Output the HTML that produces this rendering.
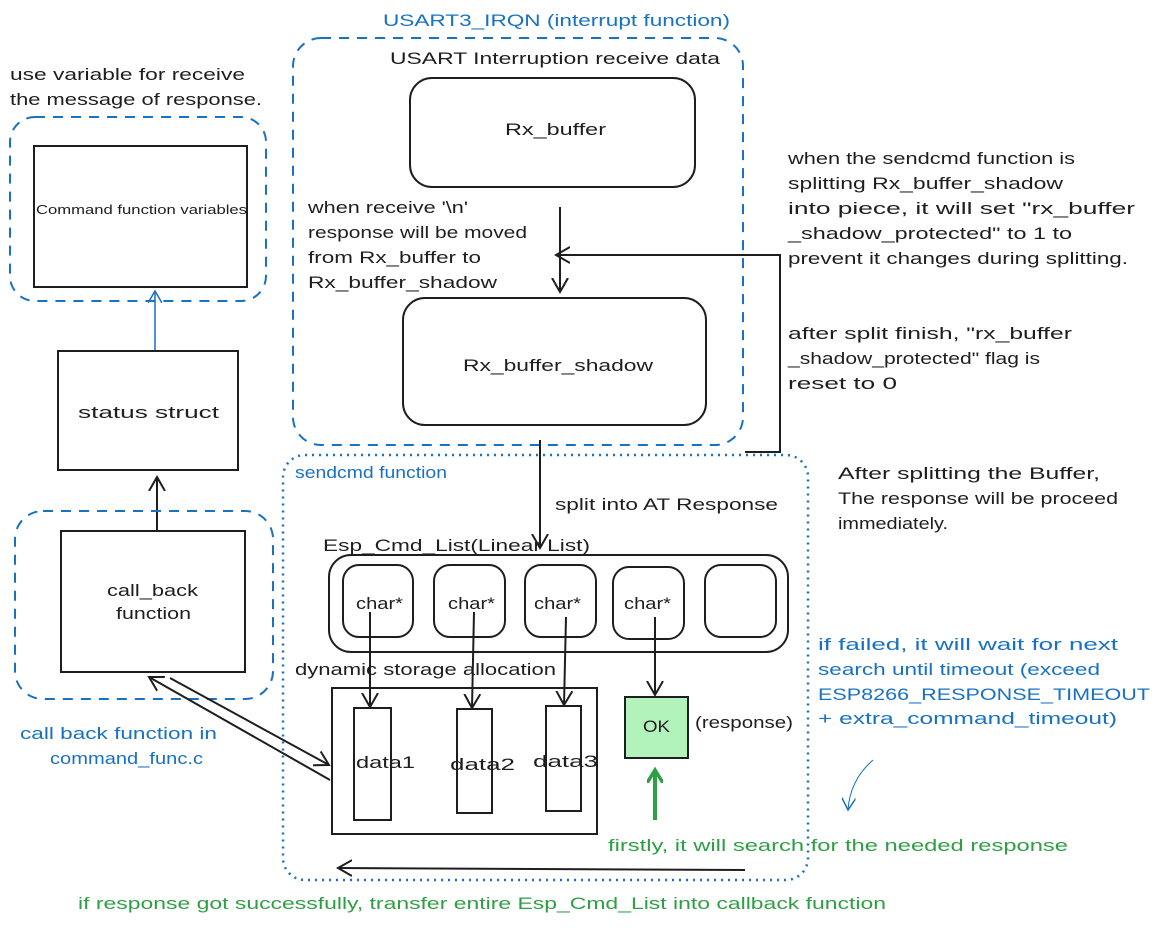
<!DOCTYPE html>
<html><head><style>
html,body{margin:0;padding:0;background:#fff}
svg text{font-family:"Liberation Sans",sans-serif;font-size:17px;fill:#1e1e1e}
.b{fill:#1971c2}.g{fill:#2f9e44}
</style></head><body>
<svg width="1170" height="927" viewBox="0 0 1170 927" xmlns="http://www.w3.org/2000/svg">
<defs>
<marker id="a" markerWidth="16" markerHeight="18" refX="14" refY="9" orient="auto" markerUnits="userSpaceOnUse"><path d="M0,1 L14,9 L0,17" fill="none" stroke="#1e1e1e" stroke-width="2"/></marker>
<marker id="ab" markerWidth="14" markerHeight="14" refX="12" refY="7" orient="auto" markerUnits="userSpaceOnUse"><path d="M0,0 L12,7 L0,14" fill="none" stroke="#1971c2" stroke-width="1.5"/></marker>
<marker id="ag" markerWidth="16" markerHeight="16" refX="13" refY="8" orient="auto" markerUnits="userSpaceOnUse"><path d="M0,0 L13,8 L0,16" fill="none" stroke="#2f9e44" stroke-width="3.5"/></marker>
</defs>
<g fill="none" stroke="#1e1e1e" stroke-width="2">
<rect x="293" y="38" width="450" height="407" rx="28" stroke="#1971c2" stroke-dasharray="10 8"/>
<rect x="410" y="78" width="285" height="109" rx="22"/>
<rect x="403" y="298" width="303" height="127" rx="22"/>
<line x1="560" y1="207" x2="560" y2="292" marker-end="url(#a)"/>
<polyline points="745,452 780,452 780,255 556,255" marker-end="url(#a)"/>
<line x1="540" y1="440" x2="540" y2="548" marker-end="url(#a)"/>
<rect x="283" y="455" width="525" height="425" rx="22" stroke="#1971c2" stroke-dasharray="2 5" stroke-width="2.5"/>
<rect x="329" y="555" width="459" height="97" rx="22"/>
<rect x="343" y="565" width="70" height="72" rx="16"/>
<rect x="434" y="565" width="71" height="72" rx="16"/>
<rect x="525" y="565" width="71" height="72" rx="16"/>
<rect x="613" y="567" width="71" height="72" rx="16"/>
<rect x="705" y="565" width="71" height="72" rx="16"/>
<rect x="332" y="688" width="265" height="146"/>
<rect x="354" y="708" width="37" height="112"/>
<rect x="457" y="709" width="35" height="104"/>
<rect x="546" y="706" width="35" height="105"/>
<line x1="370" y1="612" x2="370" y2="707" marker-end="url(#a)"/>
<line x1="474" y1="612" x2="472" y2="708" marker-end="url(#a)"/>
<line x1="566" y1="617" x2="564" y2="705" marker-end="url(#a)"/>
<line x1="655" y1="617" x2="655" y2="695" marker-end="url(#a)"/>
<rect x="625" y="697" width="63" height="61" fill="#b2f2bb"/>
<line x1="745" y1="870" x2="338" y2="868" marker-end="url(#a)"/>
<rect x="10" y="117" width="256" height="184" rx="25" stroke="#1971c2" stroke-dasharray="10 8"/>
<rect x="34" y="146" width="213" height="141"/>
<line x1="155" y1="350" x2="155" y2="291" stroke="#1971c2" stroke-width="1.5" marker-end="url(#ab)"/>
<rect x="58" y="351" width="180" height="119"/>
<line x1="157" y1="530" x2="157" y2="477" marker-end="url(#a)"/>
<rect x="15" y="511" width="258" height="188" rx="28" stroke="#1971c2" stroke-dasharray="10 8"/>
<rect x="61" y="531" width="184" height="141"/>
<line x1="170" y1="678" x2="329" y2="765" marker-end="url(#a)"/>
<line x1="330" y1="780" x2="149" y2="677" marker-end="url(#a)"/>
<path d="M873,760 Q850,780 848,810" stroke="#1971c2" stroke-width="1" marker-end="url(#ab)"/>
<line x1="655" y1="820" x2="655" y2="770" stroke="#2f9e44" stroke-width="4" marker-end="url(#ag)"/>
</g>
<g>
<text x="383" y="26" class="b" textLength="347" lengthAdjust="spacingAndGlyphs">USART3_IRQN (interrupt function)</text>
<text x="390" y="64" textLength="330" lengthAdjust="spacingAndGlyphs">USART Interruption receive data</text>
<text x="505" y="135" textLength="101" lengthAdjust="spacingAndGlyphs">Rx_buffer</text>
<text x="308" y="213" textLength="160" lengthAdjust="spacingAndGlyphs">when receive '\n'</text>
<text x="308" y="238" textLength="219" lengthAdjust="spacingAndGlyphs">response will be moved</text>
<text x="308" y="263" textLength="173" lengthAdjust="spacingAndGlyphs">from Rx_buffer to</text>
<text x="308" y="288" textLength="189" lengthAdjust="spacingAndGlyphs">Rx_buffer_shadow</text>
<text x="463" y="371" textLength="190" lengthAdjust="spacingAndGlyphs">Rx_buffer_shadow</text>
<text x="295" y="478" class="b" textLength="152" lengthAdjust="spacingAndGlyphs">sendcmd function</text>
<text x="555" y="510" textLength="223" lengthAdjust="spacingAndGlyphs">split into AT Response</text>
<text x="323" y="551" textLength="267" lengthAdjust="spacingAndGlyphs">Esp_Cmd_List(Linear List)</text>
<text x="356" y="609" textLength="47" lengthAdjust="spacingAndGlyphs">char*</text>
<text x="448" y="609" textLength="47" lengthAdjust="spacingAndGlyphs">char*</text>
<text x="534" y="609" textLength="47" lengthAdjust="spacingAndGlyphs">char*</text>
<text x="624" y="609" textLength="47" lengthAdjust="spacingAndGlyphs">char*</text>
<text x="295" y="675" textLength="261" lengthAdjust="spacingAndGlyphs">dynamic storage allocation</text>
<text x="356" y="768" textLength="59" lengthAdjust="spacingAndGlyphs">data1</text>
<text x="450" y="770" textLength="65" lengthAdjust="spacingAndGlyphs">data2</text>
<text x="533" y="767" textLength="65" lengthAdjust="spacingAndGlyphs">data3</text>
<text x="643" y="732" textLength="27" lengthAdjust="spacingAndGlyphs">OK</text>
<text x="695" y="728" textLength="98" lengthAdjust="spacingAndGlyphs">(response)</text>
<text x="608" y="851" class="g" textLength="460" lengthAdjust="spacingAndGlyphs">firstly, it will search for the needed  response</text>
<text x="78" y="909" class="g" textLength="808" lengthAdjust="spacingAndGlyphs">if response got successfully, transfer entire Esp_Cmd_List into callback function</text>
<text x="10" y="80" textLength="235" lengthAdjust="spacingAndGlyphs">use variable for receive</text>
<text x="10" y="105" textLength="252" lengthAdjust="spacingAndGlyphs">the message of response.</text>
<text x="36" y="214" textLength="211" lengthAdjust="spacingAndGlyphs" style="font-size:13px">Command function variables</text>
<text x="78" y="418" textLength="141" lengthAdjust="spacingAndGlyphs">status struct</text>
<text x="107" y="596" textLength="91" lengthAdjust="spacingAndGlyphs">call_back</text>
<text x="116" y="619" textLength="75" lengthAdjust="spacingAndGlyphs">function</text>
<text x="20" y="739" class="b" textLength="197" lengthAdjust="spacingAndGlyphs">call back function in</text>
<text x="50" y="764" class="b" textLength="153" lengthAdjust="spacingAndGlyphs">command_func.c</text>
<text x="788" y="164" textLength="287" lengthAdjust="spacingAndGlyphs">when the sendcmd function is</text>
<text x="788" y="189" textLength="275" lengthAdjust="spacingAndGlyphs">splitting Rx_buffer_shadow</text>
<text x="788" y="214" textLength="347" lengthAdjust="spacingAndGlyphs">into piece, it will set "rx_buffer</text>
<text x="788" y="239" textLength="284" lengthAdjust="spacingAndGlyphs">_shadow_protected" to 1 to</text>
<text x="788" y="264" textLength="340" lengthAdjust="spacingAndGlyphs">prevent it changes during splitting.</text>
<text x="788" y="339" textLength="284" lengthAdjust="spacingAndGlyphs">after split finish, "rx_buffer</text>
<text x="788" y="364" textLength="252" lengthAdjust="spacingAndGlyphs">_shadow_protected" flag is</text>
<text x="788" y="389" textLength="109" lengthAdjust="spacingAndGlyphs">reset to 0</text>
<text x="838" y="479" textLength="262" lengthAdjust="spacingAndGlyphs">After splitting the Buffer,</text>
<text x="838" y="504" textLength="280" lengthAdjust="spacingAndGlyphs">The response will be proceed</text>
<text x="838" y="529" textLength="110" lengthAdjust="spacingAndGlyphs">immediately.</text>
<text x="818" y="650" class="b" textLength="300" lengthAdjust="spacingAndGlyphs">if failed,  it will wait for next</text>
<text x="818" y="675" class="b" textLength="282" lengthAdjust="spacingAndGlyphs">search until timeout (exceed</text>
<text x="818" y="700" class="b" textLength="332" lengthAdjust="spacingAndGlyphs">ESP8266_RESPONSE_TIMEOUT</text>
<text x="818" y="724" class="b" textLength="299" lengthAdjust="spacingAndGlyphs">+ extra_command_timeout)</text>
</g>
</svg>
</body></html>
